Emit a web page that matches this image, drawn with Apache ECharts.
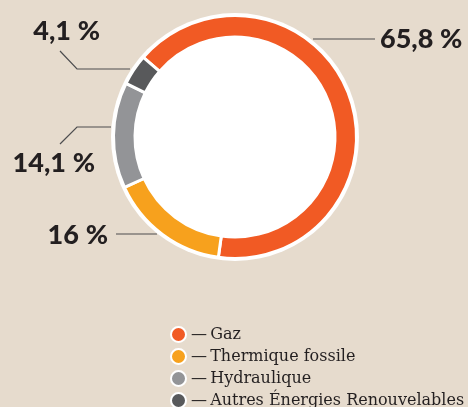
<!DOCTYPE html>
<html style="height: 100%">
<head>
<meta charset="utf-8">
</head>
<body style="height: 100%; margin: 0; background: #e6dbcd">
<div id="container" style="height: 100%"></div>
<script type="text/javascript" src="https://cdn.jsdelivr.net/npm/echarts@6/dist/echarts.min.js"></script>
<script type="text/javascript">
var categories = ['Gaz', 'Thermique fossile', 'Hydraulique', 'Autres Énergies Renouvelables'];
var shares = [65.8, 16, 14.1, 4.1];
var colors = ['#f15a24', '#f7a11d', '#939497', '#58595b'];

// label placement (text anchor + leader line), px
var labelPos = [
    { x: 380, y: 39, align: 'left', line: [[313, 39], [313, 39], [375, 39]] },
    { x: 108, y: 235, align: 'right', line: [[157, 234], [157, 234], [116, 234]] },
    { x: 95, y: 163, align: 'right', line: [[111, 127], [77, 127], [60, 144]] },
    { x: 100, y: 31, align: 'right', line: [[130, 69], [77, 69], [60, 51]] }
];

var dom = document.getElementById('container');
var myChart = echarts.init(dom);

var option = {
    backgroundColor: '#e6dbcd',
    color: colors,
    legend: {
        orient: 'vertical',
        left: 170,
        top: 326,
        height: 120,
        padding: 0,
        itemWidth: 15,
        itemHeight: 15,
        itemGap: 5,
        icon: 'circle',
        data: categories,
        formatter: function (name) { return '—\u2009' + name; },
        textStyle: {
            fontFamily: 'DejaVu Serif',
            fontSize: 16,
            lineHeight: 15,
            color: '#231f20'
        }
    },
    series: [{
        type: 'pie',
        silent: true,
        center: [235, 137],
        radius: [0, 124],
        label: { show: false },
        labelLine: { show: false },
        itemStyle: { color: '#ffffff' },
        data: [{ value: 1, name: 'bg' }]
    }, {
        type: 'pie',
        center: [235, 137],
        radius: [100, 121.5],
        startAngle: 139,
        clockwise: true,
        itemStyle: {
            borderColor: '#ffffff',
            borderWidth: 3
        },
        label: {
            show: true,
            overflow: 'none',
            formatter: function (p) {
                return String(p.value).replace('.', ',') + '\u202f%';
            },
            fontFamily: 'Lato',
            fontWeight: 900,
            fontSize: 27,
            color: '#231f20'
        },
        labelLine: {
            show: true,
            lineStyle: { color: '#4d4d4f', width: 1.2 }
        },
        labelLayout: function (params) {
            var p = labelPos[params.dataIndex];
            return {
                x: p.x,
                y: p.y,
                align: p.align,
                verticalAlign: 'middle',
                labelLinePoints: p.line
            };
        },
        data: categories.map(function (c, i) {
            return { name: c, value: shares[i] };
        })
    }]
};

myChart.setOption(option);
</script>
</body>
</html>
